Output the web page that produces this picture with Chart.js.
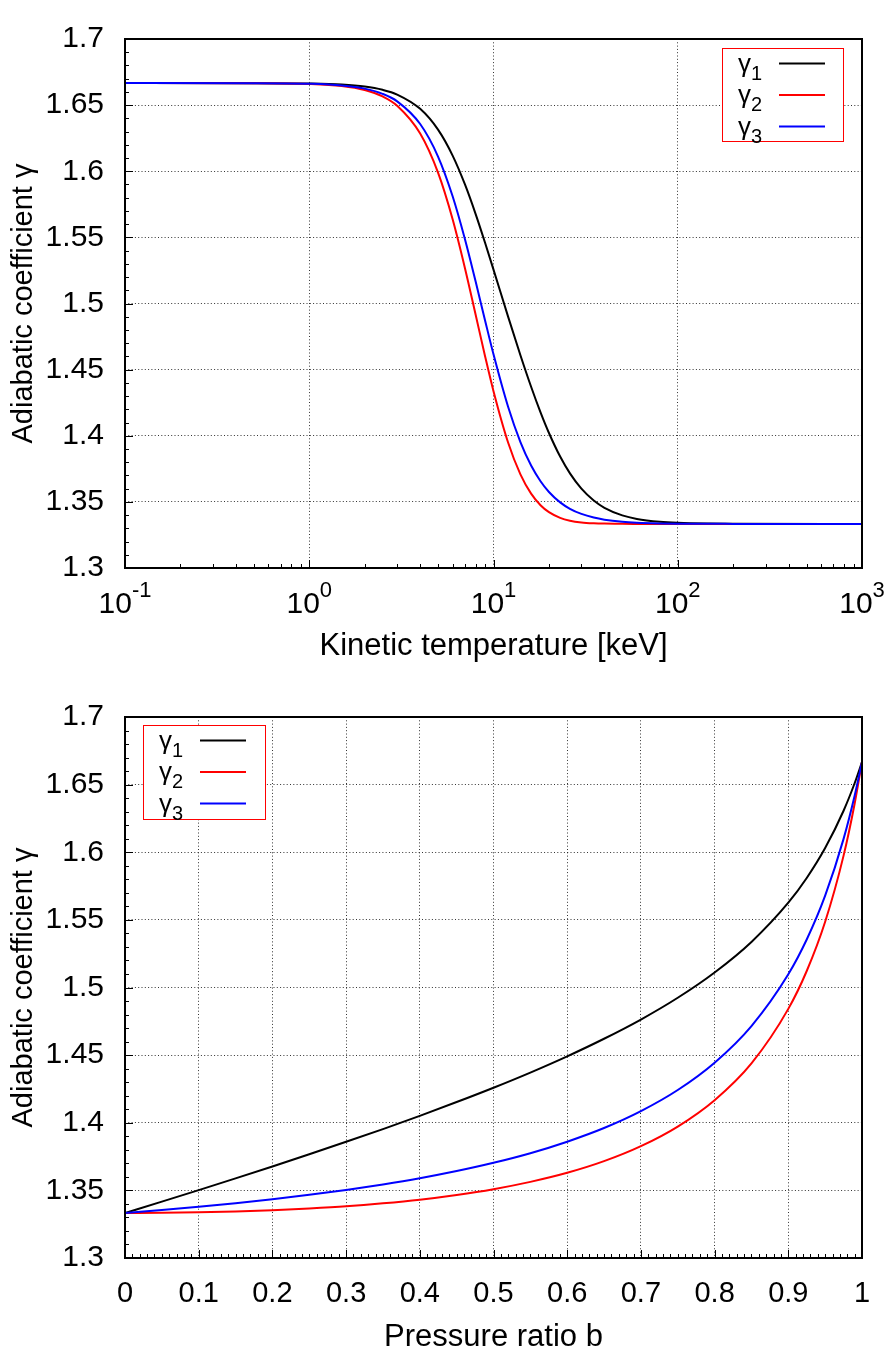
<!DOCTYPE html>
<html>
<head>
<meta charset="utf-8">
<script src="https://cdn.jsdelivr.net/npm/chart.js@4.4.1/dist/chart.umd.min.js"></script>
<style>
body { margin: 0; background: #fff; }
canvas { position: absolute; left: 0; }
</style>
</head>
<body>
<canvas id="topChart" width="890" height="678" style="top:0px"></canvas>
<canvas id="botChart" width="890" height="678" style="top:678px"></canvas>
<script>
// series names (gamma_1 .. gamma_3)
const seriesNames = ['γ1', 'γ2', 'γ3'];
const seriesColors = ['#000000', '#ff0000', '#0000ff'];

// top chart: gamma vs kinetic temperature [keV]
const tempKeV = [0.1, 0.5, 1, 1.5, 2, 2.5, 3, 4, 5, 6, 7, 8, 9, 10, 12, 14, 16, 18, 20, 23, 26, 30, 35, 40, 50, 60, 80, 100, 150, 200, 1000];
const topG1 = [1.66667, 1.66663, 1.66633, 1.66555, 1.66403, 1.66158, 1.65801, 1.64717, 1.63144, 1.61183, 1.59, 1.56763, 1.54594, 1.52564, 1.4901, 1.46092, 1.43708, 1.41771, 1.40209, 1.38425, 1.37152, 1.35997, 1.35099, 1.34551, 1.33978, 1.33711, 1.33495, 1.33416, 1.33358, 1.33344, 1.33333];
const topG2 = [1.66667, 1.66658, 1.666, 1.66443, 1.66141, 1.65654, 1.64952, 1.6285, 1.59894, 1.56371, 1.52672, 1.49147, 1.46017, 1.43373, 1.39493, 1.3708, 1.35623, 1.34749, 1.34223, 1.33792, 1.3358, 1.33449, 1.33383, 1.33356, 1.3334, 1.33335, 1.33334, 1.33333, 1.33333, 1.33333, 1.33333];
const topG3 = [1.66667, 1.6666, 1.66613, 1.66488, 1.66246, 1.65854, 1.65287, 1.6357, 1.61111, 1.58106, 1.54855, 1.51657, 1.4872, 1.46154, 1.42188, 1.39518, 1.37746, 1.3656, 1.35749, 1.34962, 1.34478, 1.34088, 1.33812, 1.33656, 1.33499, 1.33429, 1.33374, 1.33354, 1.3334, 1.33336, 1.33333];

// bottom chart: gamma vs pressure ratio b
const ratioB = [0, 0.05, 0.1, 0.15, 0.2, 0.25, 0.3, 0.35, 0.4, 0.45, 0.5, 0.55, 0.6, 0.65, 0.7, 0.75, 0.8, 0.85, 0.9, 0.925, 0.95, 0.975, 0.99, 1];
const botG1 = [1.3333, 1.3417, 1.3502, 1.3589, 1.3677, 1.3767, 1.3859, 1.3953, 1.4051, 1.4153, 1.4259, 1.4371, 1.4491, 1.4621, 1.4763, 1.4924, 1.5111, 1.5337, 1.5627, 1.581, 1.6031, 1.6307, 1.651, 1.6667];
const botG2 = [1.3333, 1.3334, 1.3338, 1.3344, 1.3353, 1.3366, 1.3382, 1.3404, 1.3431, 1.3466, 1.3509, 1.3563, 1.363, 1.3716, 1.3827, 1.3972, 1.4167, 1.4439, 1.4842, 1.5122, 1.5486, 1.5975, 1.6359, 1.6667];
const botG3 = [1.3333, 1.3355, 1.3379, 1.3405, 1.3434, 1.3467, 1.3503, 1.3544, 1.359, 1.3643, 1.3704, 1.3775, 1.386, 1.3961, 1.4086, 1.4242, 1.4444, 1.4715, 1.5098, 1.5355, 1.5679, 1.6099, 1.6418, 1.6667];

// tick values / labels
const yTickValues = [1.3, 1.35, 1.4, 1.45, 1.5, 1.55, 1.6, 1.65, 1.7];
const yTickLabels = ['1.3', '1.35', '1.4', '1.45', '1.5', '1.55', '1.6', '1.65', '1.7'];
const tempTickValues = [0.1, 1, 10, 100, 1000];
const tempTickExps = ['-1', '0', '1', '2', '3'];
const bTickValues = [0, 0.1, 0.2, 0.3, 0.4, 0.5, 0.6, 0.7, 0.8, 0.9, 1];
const bTickLabels = ['0', '0.1', '0.2', '0.3', '0.4', '0.5', '0.6', '0.7', '0.8', '0.9', '1'];

const FONT = '"Liberation Sans", Arial, sans-serif';
Chart.defaults.font.family = FONT;
Chart.defaults.color = '#000';

function pts(xs, ys) {
  return xs.map((x, i) => ({x: x, y: ys[i]}));
}
function mkSet(i, xs, ys) {
  return {
    label: seriesNames[i], data: pts(xs, ys),
    borderColor: seriesColors[i], borderWidth: 2,
    pointRadius: 0, fill: false, cubicInterpolationMode: 'monotone',
    order: 3 - i
  };
}

// minor / major inward ticks
function linTicks(lo, hi, step, every) {
  const out = [];
  const n = Math.round((hi - lo) / step);
  for (let k = 0; k <= n; k++) {
    out.push({v: lo + k * step, len: k % every === 0 ? 8 : 4});
  }
  return out;
}
function logTicks() {
  const out = [];
  for (let e = -1; e <= 2; e++) {
    for (let m = 1; m <= 9; m++) out.push({v: m * Math.pow(10, e), len: m === 1 ? 8 : 4});
  }
  out.push({v: 1000, len: 8});
  return out;
}

const frameTicks = {
  id: 'frameTicks',
  afterDatasetsDraw(chart, args, o) {
    const {ctx, chartArea: a, scales} = chart;
    ctx.save();
    ctx.strokeStyle = '#000';
    ctx.lineWidth = 1;
    ctx.beginPath();
    o.xTicks.forEach(t => {
      const px = Math.round(scales.x.getPixelForValue(t.v)) + 0.5;
      ctx.moveTo(px, a.bottom);
      ctx.lineTo(px, a.bottom - t.len);
    });
    o.yTicks.forEach(t => {
      const py = Math.round(scales.y.getPixelForValue(t.v)) + 0.5;
      ctx.moveTo(a.left, py);
      ctx.lineTo(a.left + t.len, py);
    });
    ctx.stroke();
    ctx.lineWidth = 2;
    ctx.strokeRect(a.left, a.top, a.right - a.left, a.bottom - a.top);
    ctx.restore();
  }
};

const gammaLegend = {
  id: 'gammaLegend',
  afterDraw(chart, args, o) {
    const {ctx, chartArea: a} = chart;
    const left = Math.round(o.side === 'right' ? a.right - o.dx - o.w : a.left + o.dx);
    const top = Math.round(a.top + o.dy);
    ctx.save();
    ctx.fillStyle = '#fff';
    ctx.fillRect(left, top, o.w, o.h);
    ctx.strokeStyle = '#ff0000';
    ctx.lineWidth = 1;
    ctx.strokeRect(left + 0.5, top + 0.5, o.w, o.h);
    chart.data.datasets.forEach((ds, i) => {
      const y = top + 15.5 + i * 31.5;
      ctx.fillStyle = '#000';
      ctx.textBaseline = 'alphabetic';
      ctx.textAlign = 'left';
      ctx.font = '26px ' + FONT;
      const base = ds.label.charAt(0);
      ctx.fillText(base, left + 16, y + 8);
      const w = ctx.measureText(base).width;
      ctx.font = '20px ' + FONT;
      ctx.fillText(ds.label.slice(1), left + 16 + w, y + 16);
      ctx.strokeStyle = ds.borderColor;
      ctx.lineWidth = 2;
      ctx.beginPath();
      ctx.moveTo(left + 57, y);
      ctx.lineTo(left + 103, y);
      ctx.stroke();
    });
    ctx.restore();
  }
};

const powerLabels = {
  id: 'powerLabels',
  afterDraw(chart, args, o) {
    if (!o.values) return;
    const {ctx, chartArea: a} = chart;
    const sx = chart.scales.x;
    ctx.save();
    ctx.fillStyle = '#000';
    ctx.textBaseline = 'alphabetic';
    ctx.textAlign = 'left';
    o.values.forEach((v, i) => {
      const px = sx.getPixelForValue(v);
      ctx.font = '30px ' + FONT;
      const wb = ctx.measureText('10').width;
      ctx.font = '22px ' + FONT;
      const we = ctx.measureText(o.exps[i]).width;
      const x0 = px - (wb + we) / 2;
      ctx.font = '30px ' + FONT;
      ctx.fillText('10', x0, a.bottom + 45);
      ctx.font = '22px ' + FONT;
      ctx.fillText(o.exps[i], x0 + wb, a.bottom + 29);
    });
    ctx.restore();
  }
};

const gridOpts = {color: 'rgba(0,0,0,0.8)', lineWidth: 1, drawTicks: false};
const borderOpts = {display: false, dash: [1, 2.3]};

function yAxis() {
  return {
    type: 'linear', min: 1.3, max: 1.7,
    afterBuildTicks: s => { s.ticks = yTickValues.map(v => ({value: v})); },
    afterFit: s => { s.width = 125; },
    ticks: {font: {size: 30}, padding: 21, callback: (v, i) => yTickLabels[i]},
    grid: gridOpts, border: borderOpts,
    title: {display: true, text: 'Adiabatic coefficient γ', font: {size: 29}, padding: {top: 7, bottom: 0}}
  };
}

new Chart(document.getElementById('topChart'), {
  type: 'line',
  data: {datasets: [mkSet(0, tempKeV, topG1), mkSet(1, tempKeV, topG2), mkSet(2, tempKeV, topG3)]},
  options: {
    responsive: false, animation: false, devicePixelRatio: 1,
    layout: {padding: {top: 18, right: 28, left: 0, bottom: 0}},
    plugins: {
      legend: {display: false}, tooltip: {enabled: false},
      frameTicks: {xTicks: logTicks(), yTicks: linTicks(1.3, 1.7, 0.01, 5)},
      gammaLegend: {side: 'right', dx: 19, dy: 9, w: 121, h: 93},
      powerLabels: {values: tempTickValues, exps: tempTickExps}
    },
    scales: {
      x: {
        type: 'logarithmic', min: 0.1, max: 1000,
        afterBuildTicks: s => { s.ticks = tempTickValues.map(v => ({value: v})); },
        afterFit: s => { s.height = 110; },
        ticks: {display: false},
        grid: gridOpts, border: borderOpts,
        title: {display: true, text: 'Kinetic temperature [keV]', font: {size: 31}, padding: {top: 0, bottom: 13}}
      },
      y: yAxis()
    }
  },
  plugins: [frameTicks, gammaLegend, powerLabels]
});

new Chart(document.getElementById('botChart'), {
  type: 'line',
  data: {datasets: [mkSet(0, ratioB, botG1), mkSet(1, ratioB, botG2), mkSet(2, ratioB, botG3)]},
  options: {
    responsive: false, animation: false, devicePixelRatio: 1,
    layout: {padding: {top: 31, right: 28, left: 0, bottom: 0}},
    plugins: {
      legend: {display: false}, tooltip: {enabled: false},
      frameTicks: {xTicks: linTicks(0, 1, 0.01, 10), yTicks: linTicks(1.3, 1.7, 0.01, 5)},
      gammaLegend: {side: 'left', dx: 18, dy: 8, w: 122, h: 94}
    },
    scales: {
      x: {
        type: 'linear', min: 0, max: 1,
        afterBuildTicks: s => { s.ticks = bTickValues.map(v => ({value: v})); },
        afterFit: s => { s.height = 98; },
        ticks: {font: {size: 29}, padding: 19, maxRotation: 0, callback: (v, i) => bTickLabels[i]},
        grid: gridOpts, border: borderOpts,
        title: {display: true, text: 'Pressure ratio b', font: {size: 31}, padding: {top: 0, bottom: 0}}
      },
      y: yAxis()
    }
  },
  plugins: [frameTicks, gammaLegend]
});
</script>
</body>
</html>
